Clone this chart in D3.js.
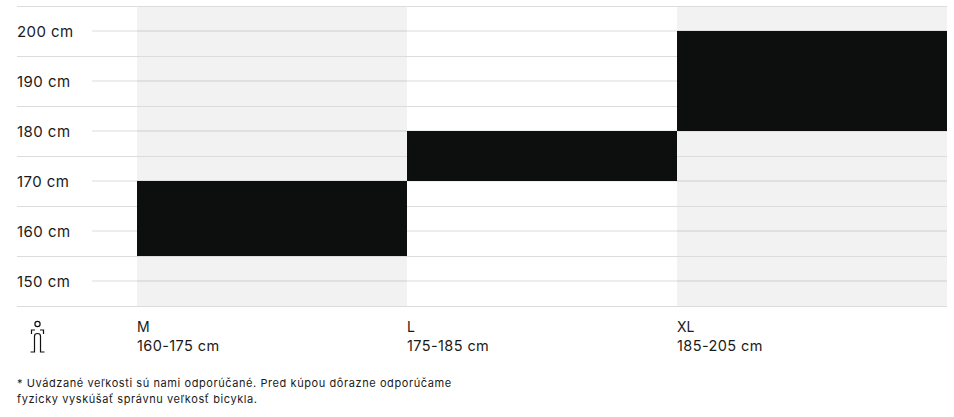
<!DOCTYPE html>
<html><head><meta charset="utf-8">
<script src="https://cdn.jsdelivr.net/npm/d3@7"></script>
<style>html,body{margin:0;padding:0;background:#fff}svg{display:block}text{font-family:Inter,"Noto Sans",sans-serif;fill:#1a1a1a}</style>
</head><body><svg id="c" width="954" height="417"></svg>
<script>
const sizes = ["M","L","XL"];
const sizeRanges = ["160-175 cm","175-185 cm","185-205 cm"];
const barLow = [155,170,180];
const barHigh = [170,180,200];
const shaded = ["M","XL"];
const labelTicks = [200,190,180,170,160,150];
const bandTicks = [205,195,185,175,165,155,145];
const footnote = ["* Uvádzané veľkosti sú nami odporúčané. Pred kúpou dôrazne odporúčame","fyzicky vyskúšať správnu veľkosť bicykla."];

const svg = d3.select("#c");
const y = d3.scaleLinear().domain([145,205]).range([306,6]);
const x = d3.scaleBand().domain(sizes).range([137,947]);

svg.selectAll(".shade").data(shaded).join("rect")
  .attr("x",d=>x(d)).attr("width",x.bandwidth())
  .attr("y",y(205)).attr("height",y(145)-y(205)).attr("fill","#f2f2f2");

svg.selectAll(".minor").data(labelTicks).join("line")
  .attr("x1",92).attr("x2",947).attr("y1",d=>y(d)).attr("y2",d=>y(d))
  .attr("stroke","#000").attr("stroke-opacity",0.07).attr("stroke-width",2);
svg.selectAll(".major").data(bandTicks).join("line")
  .attr("x1",17).attr("x2",947).attr("y1",d=>y(d)+.5).attr("y2",d=>y(d)+.5)
  .attr("stroke","#dcdcdc").attr("stroke-width",1);

svg.selectAll(".bar").data(sizes).join("rect")
  .attr("x",d=>x(d)).attr("width",x.bandwidth())
  .attr("y",(d,i)=>y(barHigh[i])).attr("height",(d,i)=>y(barLow[i])-y(barHigh[i]))
  .attr("fill","#0c0f0e");

svg.selectAll(".yl").data(labelTicks).join("text")
  .attr("x",17).attr("y",d=>y(d)+5.5).attr("font-size",15).attr("letter-spacing",0.45).text(d=>d+" cm");

svg.selectAll(".sz").data(sizes).join("text")
  .attr("x",d=>x(d)).attr("y",332).attr("font-size",14).text(d=>d);
svg.selectAll(".rg").data(sizeRanges).join("text")
  .attr("x",(d,i)=>x(sizes[i])).attr("y",351).attr("font-size",14.5).attr("letter-spacing",0.4).text(d=>d);

svg.selectAll(".fn").data(footnote).join("text")
  .attr("x",17).attr("y",(d,i)=>387+i*16).attr("font-size",11).attr("letter-spacing",0.58).text(d=>d);

const icon = svg.append("g").attr("fill","none").attr("stroke","#111").attr("stroke-width",1.2);
icon.append("circle").attr("cx",37.5).attr("cy",324).attr("r",2.6);
icon.append("path").attr("d","M31.5 334V330H35M40 330H43.5V334");
icon.append("path").attr("d","M30.5 352H34.5V336Q34.5 333.5 37.5 333.5Q40.5 333.5 40.5 336V352H44.5");
</script></body></html>
